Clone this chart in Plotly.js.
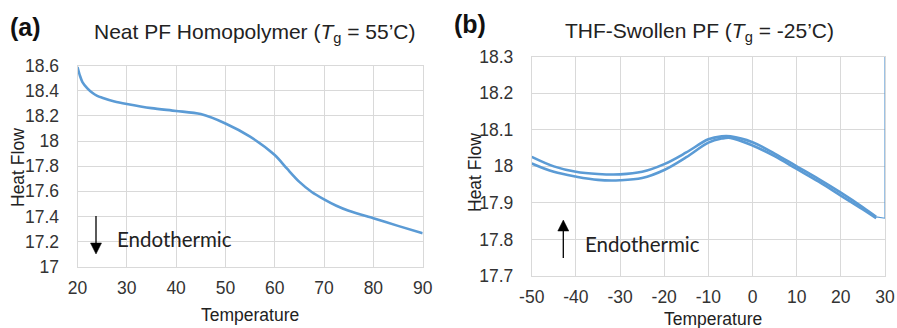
<!DOCTYPE html>
<html>
<head>
<meta charset="utf-8">
<script src="https://cdn.plot.ly/plotly-3.0.1.min.js"></script>
<style>html,body{margin:0;padding:0;background:#fff;}#chart{width:897px;height:328px;}</style>
</head>
<body>
<div id="chart"></div>
<script>
// Panel (a): Neat PF homopolymer
const aTemp = [20, 20.5, 21, 22, 23, 24, 25, 27.5, 30, 35, 40, 45, 50, 55, 60, 62.5, 65, 67.5, 70, 72.5, 75, 80, 85, 90];
const aHeat = [18.59, 18.52, 18.47, 18.42, 18.385, 18.36, 18.345, 18.315, 18.295, 18.262, 18.24, 18.215, 18.14, 18.035, 17.889, 17.78, 17.675, 17.595, 17.536, 17.485, 17.445, 17.385, 17.325, 17.266];

// Panel (b): THF-swollen PF (two overlapping traces)
const bTemp = [-50, -45, -40, -35, -30, -25, -20, -15, -10, -7, -5, 0, 5, 10, 15, 20, 25, 28];
const bHeatUpper = [18.026, 18.0, 17.985, 17.979, 17.978, 17.985, 18.006, 18.038, 18.074, 18.082, 18.082, 18.066, 18.035, 18.0, 17.965, 17.928, 17.888, 17.862];
const bHeatLower = [18.008, 17.985, 17.972, 17.963, 17.962, 17.968, 17.99, 18.025, 18.065, 18.076, 18.078, 18.057, 18.028, 17.993, 17.958, 17.92, 17.882, 17.858];
const bTailTemp = [28, 30, 30];
const bTailHeat = [17.862, 17.858, 18.3];

const aTicksX = [20, 30, 40, 50, 60, 70, 80, 90];
const aTicksY = [17, 17.2, 17.4, 17.6, 17.8, 18, 18.2, 18.4, 18.6];
const aLabelsY = ['17', '17.2', '17.4', '17.6', '17.8', '18', '18.2', '18.4', '18.6'];
const bTicksX = [-50, -40, -30, -20, -10, 0, 10, 20, 30];
const bLabelsX = ['-50', '-40', '-30', '-20', '-10', '0', '10', '20', '30'];
const bTicksY = [17.7, 17.8, 17.9, 18, 18.1, 18.2, 18.3];
const bLabelsY = ['17.7', '17.8', '17.9', '18', '18.1', '18.2', '18.3'];

const blue = '#5b9bd5';
const grid = '#d9d9d9';
const font = 'Liberation Sans, Arial, sans-serif';
const calib = 'Lato, Open Sans, sans-serif';

const traces = [
  {x: aTemp, y: aHeat, xaxis: 'x', yaxis: 'y', mode: 'lines', line: {color: blue, width: 2.6, shape: 'spline', smoothing: 0.8}},
  {x: bTemp, y: bHeatUpper, xaxis: 'x2', yaxis: 'y2', mode: 'lines', line: {color: blue, width: 2.6, shape: 'spline'}},
  {x: bTemp, y: bHeatLower, xaxis: 'x2', yaxis: 'y2', mode: 'lines', line: {color: blue, width: 2.6, shape: 'spline'}},
  {x: bTailTemp, y: bTailHeat, xaxis: 'x2', yaxis: 'y2', mode: 'lines', line: {color: blue, width: 1.2}}
];

function ax(extra) {
  return Object.assign({
    showgrid: true, gridcolor: grid, gridwidth: 1,
    showline: true, linecolor: grid, linewidth: 1, mirror: true,
    zeroline: false, ticks: '', tickfont: {family: font, size: 17.5, color: '#333'},
    tickmode: 'array', fixedrange: true
  }, extra);
}

function P(px, py) { return [px / 897, 1 - py / 328]; }
function arrowShapes(xc, yTail, yTip, yBase) {
  const t = P(xc, yTip), b1 = P(xc - 5.5, yBase), b2 = P(xc + 5.5, yBase);
  const l1 = P(xc, yTail), l2 = P(xc, yBase);
  return [
    {type: 'line', xref: 'paper', yref: 'paper', x0: l1[0], y0: l1[1], x1: l2[0], y1: l2[1], line: {color: '#000', width: 1.3}},
    {type: 'path', xref: 'paper', yref: 'paper',
     path: 'M ' + b1[0] + ' ' + b1[1] + ' L ' + b2[0] + ' ' + b2[1] + ' L ' + t[0] + ' ' + t[1] + ' Z',
     fillcolor: '#000', line: {color: '#000', width: 0.5}}
  ];
}

function note(px, py, text, size, opts) {
  return Object.assign({xref: 'paper', yref: 'paper', x: px / 897, y: 1 - py / 328,
    xanchor: 'center', yanchor: 'middle', showarrow: false, text: text,
    font: {family: font, size: size, color: '#222'}}, opts || {});
}

const layout = {
  width: 897, height: 328,
  margin: {l: 0, r: 0, t: 0, b: 0},
  paper_bgcolor: '#fff', plot_bgcolor: '#fff',
  showlegend: false,
  xaxis: ax({domain: [0.0864, 0.4712], range: [20, 90], tickvals: aTicksX, ticklabelstandoff: 5, anchor: 'y'}),
  yaxis: ax({domain: [0.1869, 0.7997], range: [17, 18.6], tickvals: aTicksY, ticktext: aLabelsY, ticklabelstandoff: 14, anchor: 'x'}),
  xaxis2: ax({domain: [0.5928, 0.9866], range: [-50, 30], tickvals: bTicksX, ticktext: bLabelsX, ticklabelstandoff: 5, anchor: 'y2'}),
  yaxis2: ax({domain: [0.1585, 0.8271], range: [17.7, 18.3], tickvals: bTicksY, ticktext: bLabelsY, ticklabelstandoff: 14, anchor: 'x2'}),
  shapes: [].concat(arrowShapes(96, 216, 254, 243), arrowShapes(563.3, 258, 220, 231)),
  annotations: [
    note(8, 27, '<b>(a)</b>', 25, {xanchor: 'left', font: {family: font, size: 25, color: '#111'}}),
    note(452, 24, '<b>(b)</b>', 25, {xanchor: 'left', font: {family: font, size: 25, color: '#111'}}),
    note(255, 33, 'Neat PF Homopolymer (<i>T</i><sub>g</sub> = 55’C)', 21),
    note(699, 32, 'THF-Swollen PF (<i>T</i><sub>g</sub> = -25’C)', 21),
    note(18, 168, 'Heat Flow', 17.5, {textangle: -90}),
    note(475, 173, 'Heat Flow', 17.5, {textangle: -90}),
    note(250, 315, 'Temperature', 17.5),
    note(713, 318.5, 'Temperature', 17.5),
    note(115, 239, 'Endothermic', 20.5, {xanchor: 'left', font: {family: calib, size: 20.5, color: '#222'}}),
    note(583, 244, 'Endothermic', 20.5, {xanchor: 'left', font: {family: calib, size: 20.5, color: '#222'}})
  ]
};

Plotly.newPlot('chart', traces, layout, {displayModeBar: false, staticPlot: true});
</script>
</body>
</html>
